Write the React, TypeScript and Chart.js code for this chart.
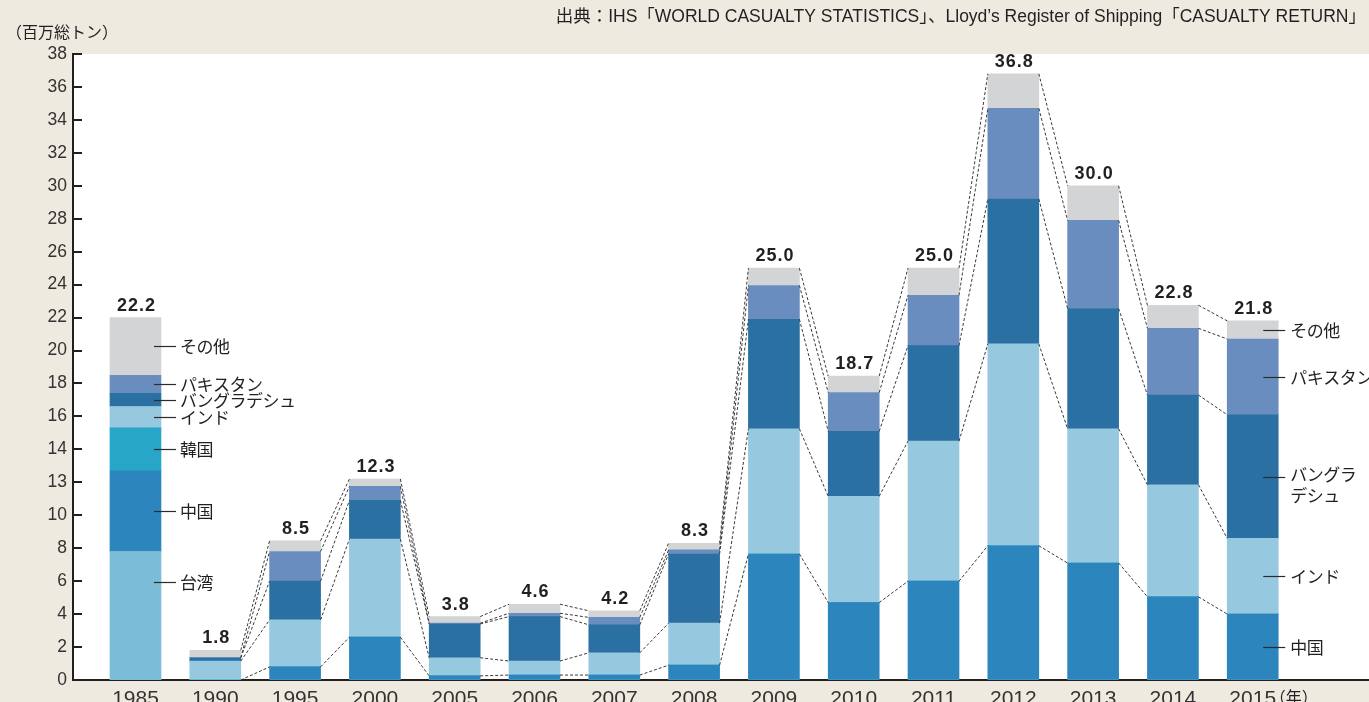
import React, { useEffect, useRef } from 'react';
import { Chart, registerables } from 'chart.js';

Chart.register(...registerables);

// ---------- data ----------
const years = ['1985', '1990', '1995', '2000', '2005', '2006', '2007', '2008', '2009', '2010', '2011', '2012', '2013', '2014', '2015'];
const seriesNames = ['台湾', '中国', '韓国', 'インド', 'バングラデシュ', 'パキスタン', 'その他'];
const taiwan = [7.8, 0, 0, 0, 0, 0, 0, 0, 0, 0, 0, 0, 0, 0, 0];
const china = [4.9, 0, 0.8, 2.6, 0.25, 0.3, 0.3, 0.9, 7.65, 4.7, 6.0, 8.15, 7.1, 5.05, 4.0];
const korea = [2.6, 0, 0, 0, 0, 0, 0, 0, 0, 0, 0, 0, 0, 0, 0];
const india = [1.3, 1.15, 2.85, 5.95, 1.1, 0.85, 1.35, 2.55, 7.6, 6.45, 8.5, 12.25, 8.15, 6.8, 4.6];
const bangladesh = [0.8, 0.2, 2.35, 2.35, 2.05, 2.7, 1.7, 4.2, 6.65, 3.95, 5.8, 8.8, 7.3, 5.45, 7.5];
const pakistan = [1.1, 0, 1.8, 0.85, 0.05, 0.2, 0.45, 0.25, 2.05, 2.35, 3.05, 5.5, 5.35, 4.05, 4.6];
const others = [3.5, 0.45, 0.65, 0.45, 0.4, 0.55, 0.4, 0.4, 1.05, 1.0, 1.65, 2.1, 2.1, 1.4, 1.1];
const totalLabels = ['22.2', '1.8', '8.5', '12.3', '3.8', '4.6', '4.2', '8.3', '25.0', '18.7', '25.0', '36.8', '30.0', '22.8', '21.8'];
const yTickLabels = ['0', '2', '4', '6', '8', '10', '13', '14', '16', '18', '20', '22', '24', '26', '28', '30', '32', '34', '36', '38'];
const labels1985 = ['台湾', '中国', '韓国', 'インド', 'バングラデシュ', 'パキスタン', 'その他'];
const labels2015 = ['', '中国', '', 'インド', 'バングラ\nデシュ', 'パキスタン', 'その他'];
const unitText = '（百万総トン）';
const sourceText = '出典：IHS「WORLD CASUALTY STATISTICS」、Lloyd’s Register of Shipping「CASUALTY RETURN」';
const yearSuffix = '（年）';

const series = [taiwan, china, korea, india, bangladesh, pakistan, others];
const colors = ['#7BBCD8', '#2C85BC', '#27A6C8', '#96C8DF', '#2A70A2', '#6A8DC0', '#D3D4D6'];

// ---------- style ----------
const BG = '#EEEAE0';
const INK = '#231F20';
const BAR_W = 51;
const X_MIN = -0.783;
const X_MAX = 15.457;
const LATIN = '"Liberation Sans", "Noto Sans CJK JP", sans-serif';
const JP = '"Noto Sans CJK JP", sans-serif';

const decor = {
  id: 'decor',
  beforeDraw(chart: any) {
    const { ctx, chartArea: a, width, height } = chart;
    ctx.save();
    ctx.fillStyle = BG;
    ctx.fillRect(0, 0, width, height);
    ctx.fillStyle = '#ffffff';
    ctx.fillRect(a.left, a.top, a.right - a.left, a.bottom - a.top);
    ctx.restore();
  },
  afterDatasetsDraw(chart: any) {
    const { ctx } = chart;
    const ys = chart.scales.y;
    const el = (k: number, i: number) => chart.getDatasetMeta(k).data[i];
    const n = years.length;

    // dashed connectors between bars (1990 onwards)
    ctx.save();
    ctx.setLineDash([3, 2]);
    ctx.lineWidth = 1;
    ctx.strokeStyle = '#3a3a3a';
    const boundaries = [1, 3, 4, 5, 6];
    for (let i = 1; i < n - 1; i++) {
      for (const k of boundaries) {
        const a = el(k, i);
        const b = el(k, i + 1);
        ctx.beginPath();
        ctx.moveTo(a.x + a.width / 2, a.y);
        ctx.lineTo(b.x - b.width / 2, b.y);
        ctx.stroke();
      }
    }
    ctx.restore();

    // series labels on 1985 and 2015 bars
    ctx.save();
    ctx.fillStyle = INK;
    ctx.strokeStyle = '#2b2b2b';
    ctx.lineWidth = 1.2;
    ctx.font = `17px ${JP}`;
    ctx.textBaseline = 'middle';
    ctx.textAlign = 'left';
    try { (ctx as any).letterSpacing = '-0.5px'; } catch (e) {}
    const drawLabels = (i: number, names: string[], lineFrom: number, lineTo: number, textAt: number) => {
      let base = 0;
      for (let k = 0; k < series.length; k++) {
        const v = series[k][i];
        let mid = base + v / 2;
        if (i === 0 && k === 0) mid = base + v * 0.76;
        base += v;
        const name = names[k];
        if (!name) continue;
        const e = el(k, i);
        const right = e.x + e.width / 2;
        const y = Math.round(ys.getPixelForValue(mid)) + 0.5;
        ctx.beginPath();
        ctx.moveTo(right + lineFrom, y);
        ctx.lineTo(right + lineTo, y);
        ctx.stroke();
        const lines = name.split('\n');
        lines.forEach((t, j) => ctx.fillText(t, right + textAt, y - (lines.length > 1 ? 3 : 0) + j * 21));
      }
    };
    drawLabels(0, labels1985, -7, 15, 19);
    drawLabels(n - 1, labels2015, -15, 7, 12);
    ctx.restore();

    // totals above bars
    ctx.save();
    ctx.fillStyle = INK;
    ctx.font = `bold 18px ${LATIN}`;
    ctx.textAlign = 'center';
    ctx.textBaseline = 'alphabetic';
    try { (ctx as any).letterSpacing = '1px'; } catch (e) {}
    for (let i = 0; i < n; i++) {
      const top = el(series.length - 1, i);
      ctx.fillText(totalLabels[i], top.x + 1, top.y - 7);
    }
    ctx.restore();
  },
  afterDraw(chart: any) {
    const { ctx, chartArea: a } = chart;
    const ys = chart.scales.y;
    const xs = chart.scales.x;
    ctx.save();
    // inward y ticks
    ctx.strokeStyle = INK;
    ctx.lineWidth = 2;
    ys.ticks.forEach((t: any) => {
      const y = Math.round(ys.getPixelForValue(t.value));
      ctx.beginPath();
      ctx.moveTo(a.left, y);
      ctx.lineTo(a.left + 9, y);
      ctx.stroke();
    });
    // unit
    ctx.fillStyle = INK;
    ctx.font = `16px ${JP}`;
    ctx.textBaseline = 'middle';
    ctx.textAlign = 'left';
    ctx.fillText(unitText, 6, 32);
    // source
    ctx.font = `17.5px ${LATIN}`;
    ctx.textAlign = 'right';
    ctx.fillText(sourceText, 1366, 17, 817);
    // (年)
    ctx.font = `16px ${JP}`;
    ctx.textAlign = 'left';
    const lx = xs.getPixelForValue(years.length - 1);
    ctx.fillText(yearSuffix, lx + 17, 697);
    ctx.restore();
  },
};

export default function App() {
  const ref = useRef<HTMLCanvasElement>(null);
  useEffect(() => {
    document.body.style.margin = '0';
    document.body.style.background = BG;
    const canvas = ref.current!;
    const chart = new Chart(canvas, {
      type: 'bar',
      data: {
        datasets: series.map((s, k) => ({
          label: seriesNames[k],
          data: s.map((v, i) => ({ x: i, y: v })),
          backgroundColor: colors[k],
          borderWidth: 0,
          barThickness: BAR_W,
          stack: 'all',
        })),
      },
      options: {
        responsive: false,
        animation: false,
        events: [],
        layout: { padding: { top: 54, left: 0, right: 0, bottom: 0 } },
        plugins: { legend: { display: false }, tooltip: { enabled: false }, title: { display: false } },
        scales: {
          x: {
            type: 'linear',
            min: X_MIN,
            max: X_MAX,
            offset: false,
            stacked: true,
            z: 1,
            grid: { display: false, drawTicks: false },
            border: { display: true, color: INK, width: 2 },
            afterBuildTicks: (s: any) => {
              s.ticks = years.map((_, i) => ({ value: i }));
            },
            afterFit: (s: any) => {
              s.height = 22;
              s.paddingLeft = 0;
              s.paddingRight = 0;
            },
            ticks: {
              autoSkip: false,
              maxRotation: 0,
              padding: 7,
              color: '#333333',
              font: { family: LATIN, size: 21 },
              callback: (v: any) => years[v] ?? '',
            },
          },
          y: {
            min: 0,
            max: 38,
            stacked: true,
            grid: { display: false, drawTicks: false },
            border: { display: true, color: INK, width: 2 },
            afterFit: (s: any) => {
              s.width = 73;
              s.paddingTop = 0;
              s.paddingBottom = 0;
            },
            ticks: {
              stepSize: 2,
              autoSkip: false,
              padding: 6,
              color: '#333333',
              font: { family: LATIN, size: 17.5 },
              callback: (_v: any, i: number) => yTickLabels[i],
            },
          },
        },
      } as any,
      plugins: [decor],
    });
    return () => chart.destroy();
  }, []);
  return <canvas ref={ref} width={1369} height={702} style={{ display: 'block' }} />;
}
